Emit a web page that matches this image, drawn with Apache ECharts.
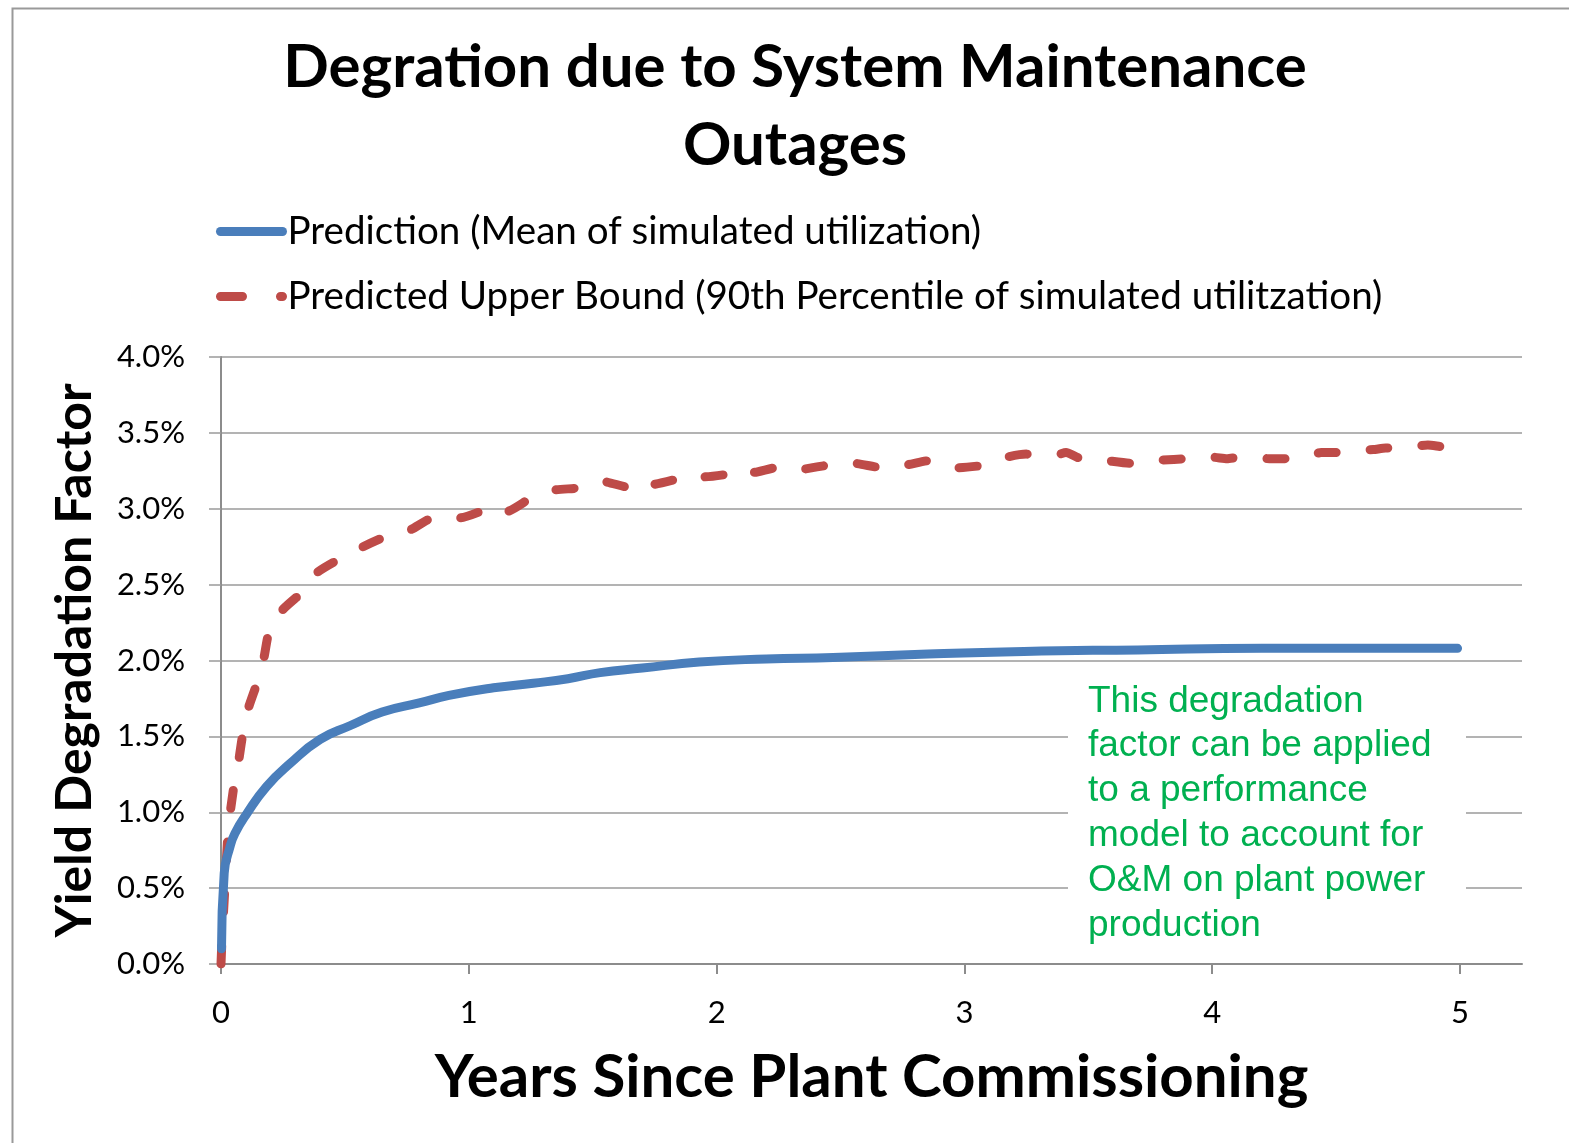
<!DOCTYPE html>
<html>
<head>
<meta charset="utf-8">
<title>Degration due to System Maintenance Outages</title>
<script src="https://cdn.jsdelivr.net/npm/echarts@6/dist/echarts.min.js"></script>
<style>
html,body{margin:0;padding:0;background:#fff;}
#main{width:1569px;height:1143px;}
</style>
</head>
<body>
<div id="main"></div>
<script>
// years since commissioning / degradation factor in %
var meanYears = [0.002, 0.013, 0.036, 0.056, 0.104, 0.184, 0.278, 0.40, 0.52, 0.65, 0.80, 0.92, 1.10, 1.26, 1.40, 1.53, 1.70, 1.93, 2.20, 2.47, 2.80, 3.24, 3.70, 4.20, 4.60, 4.99];
var meanPct = [0.10, 0.60, 0.77, 0.86, 0.99, 1.17, 1.32, 1.48, 1.57, 1.66, 1.72, 1.77, 1.82, 1.85, 1.88, 1.92, 1.95, 1.99, 2.01, 2.02, 2.04, 2.06, 2.07, 2.08, 2.08, 2.08];

var upperYears = [0, 0.004, 0.016, 0.03, 0.05, 0.064, 0.10, 0.145, 0.17, 0.198, 0.246, 0.30, 0.34, 0.38, 0.48, 0.52, 0.55, 0.655, 0.763, 0.857, 0.965, 1.06, 1.10, 1.15, 1.25, 1.33, 1.46, 1.54, 1.65, 1.70, 1.74, 1.85, 1.91, 1.95, 2.05, 2.11, 2.15, 2.24, 2.31, 2.35, 2.46, 2.55, 2.67, 2.77, 2.87, 2.97, 3.09, 3.17, 3.25, 3.36, 3.41, 3.47, 3.56, 3.67, 3.79, 3.90, 4.00, 4.06, 4.11, 4.23, 4.33, 4.44, 4.49, 4.54, 4.65, 4.70, 4.76, 4.87, 4.92, 4.98];
var upperPct = [0.0, 0.16, 0.51, 0.90, 1.15, 1.26, 1.63, 1.85, 1.99, 2.22, 2.33, 2.41, 2.46, 2.57, 2.67, 2.69, 2.73, 2.81, 2.86, 2.94, 2.94, 2.99, 3.02, 2.98, 3.07, 3.12, 3.14, 3.18, 3.14, 3.19, 3.16, 3.20, 3.23, 3.21, 3.23, 3.27, 3.24, 3.27, 3.25, 3.26, 3.29, 3.30, 3.27, 3.29, 3.32, 3.27, 3.29, 3.34, 3.36, 3.35, 3.37, 3.33, 3.32, 3.30, 3.32, 3.33, 3.34, 3.33, 3.34, 3.33, 3.33, 3.37, 3.37, 3.38, 3.39, 3.40, 3.40, 3.42, 3.41, 3.40];

var xTicks = [0, 1, 2, 3, 4, 5];
var seriesNames = ['Prediction (Mean of simulated utilization)', 'Predicted Upper Bound (90th Percentile of simulated utilitzation)'];
var note = 'This degradation\nfactor can be applied\nto a performance\nmodel to account for\nO&M on plant power\nproduction';

function pairs(xs, ys) {
	var out = [];
	for (var i = 0; i < xs.length; i++) out.push([xs[i], ys[i]]);
	return out;
}

var font = 'Lato, "Open Sans", sans-serif';
var legendText = { fontFamily: font, fontSize: 38.6, lineHeight: 39, color: '#000' };

var option = {
	backgroundColor: '#fff',
	animation: false,
	grid: { left: 221, top: 357, right: 47, bottom: 179 },
	legend: [
		{ data: [seriesNames[0]], left: 211, top: 207, itemWidth: 62, itemHeight: 22, selectedMode: false,
		  lineStyle: { width: 9, cap: 'round' }, itemStyle: { opacity: 0 }, textStyle: legendText },
		{ data: [seriesNames[1]], left: 211, top: 272, itemWidth: 62, itemHeight: 22, selectedMode: false,
		  lineStyle: { width: 9, cap: 'round', type: [22, 38] }, itemStyle: { opacity: 0 }, textStyle: legendText }
	],
	xAxis: {
		type: 'value', min: 0, max: 5.25, interval: 1,
		name: 'Years Since Plant Commissioning', nameLocation: 'middle', nameGap: 84,
		nameTextStyle: { fontFamily: font, fontSize: 60, fontWeight: 'bold', color: '#000' },
		axisLine: { show: true, lineStyle: { color: '#8c8c8c', width: 2 } },
		axisTick: { show: true, length: 10, customValues: xTicks, lineStyle: { color: '#8c8c8c', width: 2 } },
		axisLabel: { customValues: xTicks, margin: 33, fontFamily: font, fontSize: 31, color: '#000' },
		splitLine: { show: false }
	},
	yAxis: {
		type: 'value', min: 0, max: 4, interval: 0.5,
		name: 'Yield Degradation Factor', nameLocation: 'middle', nameGap: 121, nameRotate: 90,
		nameTextStyle: { fontFamily: font, fontSize: 50, fontWeight: 'bold', color: '#000' },
		axisLine: { show: true, lineStyle: { color: '#8c8c8c', width: 2 } },
		axisTick: { show: true, length: 12, lineStyle: { color: '#9a9a9a', width: 1.5 } },
		axisLabel: { margin: 36, fontFamily: font, fontSize: 31, color: '#000',
			formatter: function (v) { return v.toFixed(1) + '%'; } },
		splitLine: { show: true, lineStyle: { color: '#9a9a9a', width: 1.5 } }
	},
	series: [
		{
			name: seriesNames[0], type: 'line', showSymbol: false, symbol: 'none', smooth: 0.5,
			lineStyle: { color: '#4a7ebb', width: 9, cap: 'round', join: 'round' },
			itemStyle: { color: '#4a7ebb' },
			data: pairs(meanYears, meanPct), z: 3
		},
		{
			name: seriesNames[1], type: 'line', showSymbol: false, symbol: 'none', smooth: 0.2,
			lineStyle: { color: '#be4b48', width: 9, type: [18, 34], cap: 'round', join: 'round' },
			itemStyle: { color: '#be4b48' },
			data: pairs(upperYears, upperPct), z: 2
		}
	],
	graphic: [
		{ type: 'rect', left: 10, top: 6, silent: true, z: -10,
		  shape: { width: 1600, height: 1200 }, style: { fill: 'none', stroke: '#999', lineWidth: 2 } },
		{ type: 'text', x: 795, y: 29, z: 10,
		  style: { text: 'Degration due to System Maintenance\nOutages', align: 'center', verticalAlign: 'top',
			fontFamily: font, fontSize: 60, fontWeight: 'bold', lineHeight: 78, fill: '#000' } },
		{ type: 'rect', x: 1068, y: 666, z: 20,
		  shape: { width: 398, height: 294 }, style: { fill: '#fff' } },
		{ type: 'text', x: 1088, y: 679, z: 21,
		  style: { text: note, align: 'left', verticalAlign: 'top',
			fontFamily: '"Liberation Sans", Arial, sans-serif', fontSize: 37, lineHeight: 44.8, fill: '#00b050' } }
	]
};

var chart = echarts.init(document.getElementById('main'));
chart.setOption(option);
</script>
</body>
</html>
